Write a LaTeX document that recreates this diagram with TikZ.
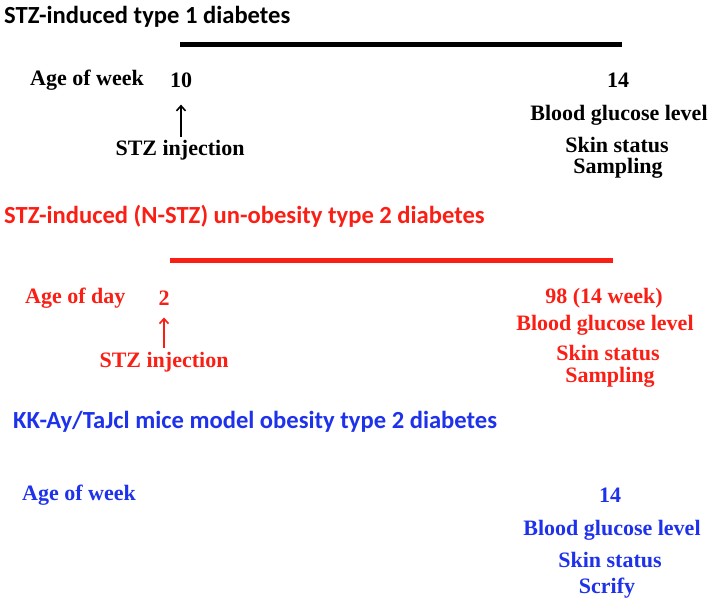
\documentclass[tikz,border=0pt]{standalone}
\usepackage{fontspec}
\setmainfont{Liberation Serif}
\newfontfamily\headfont{Carlito}
\usetikzlibrary{arrows.meta}
\definecolor{tred}{RGB}{250,30,20}
\definecolor{tblue}{RGB}{30,50,235}

\begin{document}
\begin{tikzpicture}[x=1pt,y=-1pt,
  lbl/.style={font=\fontsize{22}{24}\selectfont\bfseries,inner sep=0pt},
  head/.style={font=\headfont\fontsize{24.6}{27}\selectfont\bfseries,anchor=west,inner sep=0pt},
  tline/.style={line width=5pt},
  inj/.style={-{Straight Barb[length=5pt,width=9pt,line width=1.6pt]},line width=1.8pt}]
\useasboundingbox (0,0) rectangle (714,604);
% type 1 (black)
\node[head] (h1) at (4,17) {STZ-induced type 1 diabetes};
\coordinate (l1s) at (180,45);
\coordinate (l1e) at (622,45);
\draw[tline] (l1s) -- (l1e);
\node[lbl,anchor=west] (a1) at (30,80) {Age of week};
\node[lbl] (w10) at (181,80) {10};
\node[lbl] (s1) at (180,150) {STZ injection};
\draw[inj,shorten <=3pt,shorten >=17pt] (s1.north -| w10.south) -- (w10.south);
\node[lbl] (w14) at (618,80) {14};
\node[lbl] (b1) at (619,115) {Blood glucose level};
\node[lbl] (k1) at (617,145) {Skin status};
\node[lbl] (m1) at (618,168) {Sampling};
% N-STZ type 2 (red)
\begin{scope}[tred]
\node[head] (h2) at (4,216) {STZ-induced (N-STZ) un-obesity type 2 diabetes};
\coordinate (l2s) at (170,260);
\coordinate (l2e) at (613,260);
\draw[tline] (l2s) -- (l2e);
\node[lbl,anchor=west] (a2) at (25,298) {Age of day};
\node[lbl] (d2) at (164,298) {2};
\node[lbl] (s2) at (164,362) {STZ injection};
\draw[inj,shorten <=4pt,shorten >=12pt] (s2.north) -- (d2.south);
\node[lbl] (d98) at (604,298) {98 (14 week)};
\node[lbl] (b2) at (605,325) {Blood glucose level};
\node[lbl] (k2) at (608,353) {Skin status};
\node[lbl] (m2) at (610,377) {Sampling};
\end{scope}
% KK-Ay obesity type 2 (blue)
\begin{scope}[tblue]
\node[head] (h3) at (13,422) {KK-Ay/TaJcl mice model obesity type 2 diabetes};
\node[lbl,anchor=west] (a3) at (22,495) {Age of week};
\node[lbl] (w3) at (610,495) {14};
\node[lbl] (b3) at (612,530) {Blood glucose level};
\node[lbl] (k3) at (610,560) {Skin status};
\node[lbl] (m3) at (607,588) {Scrify};
\end{scope}
\end{tikzpicture}
\end{document}
